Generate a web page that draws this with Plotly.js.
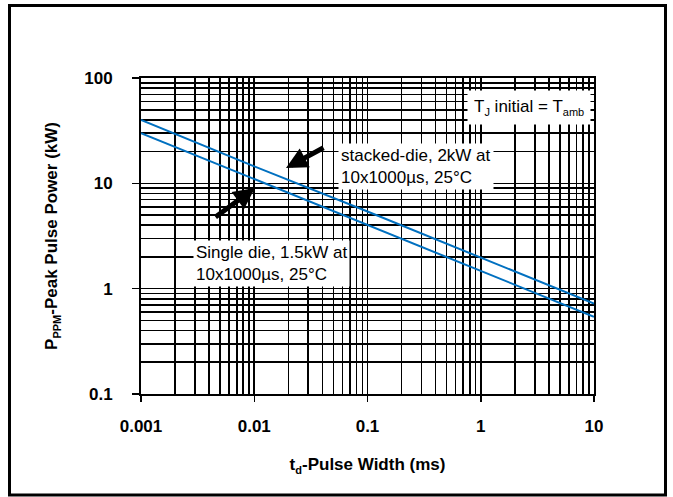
<!DOCTYPE html>
<html>
<head>
<meta charset="utf-8">
<script src="https://cdn.plot.ly/plotly-3.0.1.min.js"></script>
<style>
html,body{margin:0;padding:0;background:#fff;}
#chart{width:673px;height:497px;}
</style>
</head>
<body>
<div id="chart"></div>
<script>
// ---- data ----
const pulseWidthMs = [0.001, 0.01, 0.1, 1, 10];
const stackedDieKW = [40, 14.5, 5.4, 1.98, 0.72];
const singleDieKW  = [30, 11.0, 4.0, 1.48, 0.54];

const xTickVals = [0.001, 0.01, 0.1, 1, 10];
const xTickText = ['0.001', '0.01', '0.1', '1', '10'];
const yTickVals = [0.1, 1, 10, 100];
const yTickText = ['0.1', '1', '10', '100'];

const xDecades = [0.001, 0.01, 0.1, 1];
const yDecades = [0.1, 1, 10];

function minorVals(decades){
  const out = [];
  decades.forEach(d => { for (let m = 2; m <= 9; m++) out.push(+(m*d).toPrecision(3)); });
  return out;
}

// ---- plot geometry (pixels) ----
const W = 673, H = 497;
const L = 141, R = 594, T = 78, B = 394;
const px = x => (x - L) / (R - L);
const py = y => (B - y) / (B - T);

const FONT = 'Liberation Sans, Arial, sans-serif';
const blue = '#0070C0';
const sub = s => '<sub><span style="font-size:11px">' + s + '</span></sub>';

const traces = [
  {x: pulseWidthMs, y: stackedDieKW, type: 'scatter', mode: 'lines',
   line: {color: blue, width: 2}, name: 'stacked-die', hoverinfo: 'x+y'},
  {x: pulseWidthMs, y: singleDieKW, type: 'scatter', mode: 'lines',
   line: {color: blue, width: 2}, name: 'single die', hoverinfo: 'x+y'}
];

const gridW = 1.6;

const layout = {
  width: W, height: H,
  margin: {l: L, r: W - R, t: T, b: H - B, pad: 0},
  paper_bgcolor: '#fff', plot_bgcolor: '#fff',
  showlegend: false,
  font: {family: FONT, color: '#000', size: 17},
  xaxis: {
    type: 'log', range: [-3, 1], tickmode: 'array',
    tickvals: xTickVals, ticktext: xTickText,
    tickfont: {family: FONT, size: 17, weight: 'bold', color: '#000'},
    ticks: 'outside', ticklen: 6, tickwidth: 1.5, tickcolor: '#000',
    ticklabelstandoff: 10,
    showgrid: true, gridcolor: '#000', gridwidth: gridW,
    minor: {tickvals: minorVals(xDecades), showgrid: true, gridcolor: '#000', gridwidth: gridW, ticks: ''},
    showline: true, mirror: true, linecolor: '#000', linewidth: 2,
    zeroline: false, automargin: false,
    title: {text: 't' + sub('d') + '-Pulse Width (ms)', font: {family: FONT, size: 17, weight: 'bold', color: '#000'}, standoff: 23}
  },
  yaxis: {
    type: 'log', range: [-1, 2], tickmode: 'array',
    tickvals: yTickVals, ticktext: yTickText,
    tickfont: {family: FONT, size: 17, weight: 'bold', color: '#000'},
    ticks: 'outside', ticklen: 7, tickwidth: 1.5, tickcolor: '#000',
    ticklabelstandoff: 16,
    showgrid: true, gridcolor: '#000', gridwidth: gridW,
    minor: {tickvals: minorVals(yDecades), showgrid: true, gridcolor: '#000', gridwidth: gridW, ticks: ''},
    showline: true, mirror: true, linecolor: '#000', linewidth: 2,
    zeroline: false, automargin: false,
    title: {text: 'P' + sub('PPM') + '-Peak Pulse Power (kW)', font: {family: FONT, size: 17, weight: 'bold', color: '#000'}, standoff: 22}
  },
  shapes: [
    {type: 'rect', xref: 'paper', yref: 'paper', layer: 'above',
     x0: px(9.5), x1: px(665.5), y0: py(495), y1: py(5.5),
     line: {color: '#000', width: 3}, fillcolor: 'rgba(0,0,0,0)'}
  ],
  annotations: [
    {xref: 'paper', yref: 'paper', x: px(338), y: py(143), xanchor: 'left', yanchor: 'top',
     text: 'stacked-die, 2kW at<br>10x1000µs, 25°C', align: 'left', showarrow: false,
     bgcolor: '#fff', borderpad: 2, font: {family: FONT, size: 17, color: '#000'}},
    {xref: 'paper', yref: 'paper', x: px(193), y: py(240), xanchor: 'left', yanchor: 'top',
     text: 'Single die, 1.5kW at<br>10x1000µs, 25°C', align: 'left', showarrow: false,
     bgcolor: '#fff', borderpad: 2, font: {family: FONT, size: 17, color: '#000'}},
    {xref: 'paper', yref: 'paper', x: px(467), y: py(90), xanchor: 'left', yanchor: 'top',
     text: 'T' + sub('J') + ' initial = T' + sub('amb'), align: 'left', showarrow: false,
     bgcolor: '#fff', borderpad: 6, font: {family: FONT, size: 17, color: '#000'}},
    {xref: 'paper', yref: 'paper', x: px(286), y: py(168), text: '', showarrow: true,
     ax: 39, ay: -21, axref: 'pixel', ayref: 'pixel',
     arrowhead: 2, arrowsize: 0.85, arrowwidth: 5, arrowcolor: '#000', standoff: 0},
    {xref: 'paper', yref: 'paper', x: px(255), y: py(188), text: '', showarrow: true,
     ax: -41, ay: 30, axref: 'pixel', ayref: 'pixel',
     arrowhead: 2, arrowsize: 0.85, arrowwidth: 5, arrowcolor: '#000', standoff: 0}
  ]
};

Plotly.newPlot('chart', traces, layout, {displayModeBar: false, staticPlot: true});
</script>
</body>
</html>
